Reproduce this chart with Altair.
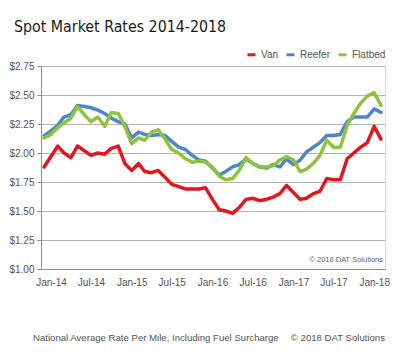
import altair as alt
import pandas as pd

# Monthly data, Dec-2013 .. Feb-2018 (51 months)
months = pd.date_range("2013-12-01", periods=51, freq="MS").strftime("%Y-%m-%dT00:00:00").tolist()

van = [1.88, 1.97, 2.06, 2.00, 1.96, 2.06, 2.02, 1.98, 2.00, 1.99,
       2.04, 2.06, 1.91, 1.85, 1.91, 1.84, 1.83, 1.85, 1.79, 1.73,
       1.71, 1.69, 1.69, 1.69, 1.70, 1.60, 1.51, 1.50, 1.48, 1.53,
       1.60, 1.61, 1.59, 1.60, 1.62, 1.65, 1.72, 1.66, 1.60, 1.61,
       1.65, 1.67, 1.78, 1.77, 1.77, 1.95, 2.00, 2.05, 2.09, 2.23, 2.12]

reefer = [2.15, 2.19, 2.24, 2.31, 2.33, 2.41, 2.40, 2.39, 2.37, 2.34,
          2.30, 2.27, 2.25, 2.13, 2.18, 2.16, 2.15, 2.16, 2.15, 2.10,
          2.05, 2.03, 1.98, 1.94, 1.93, 1.87, 1.81, 1.84, 1.88, 1.90,
          1.95, 1.91, 1.88, 1.87, 1.90, 1.88, 1.95, 1.90, 1.94, 2.01,
          2.05, 2.09, 2.15, 2.15, 2.16, 2.27, 2.31, 2.31, 2.31, 2.38, 2.35]

flatbed = [2.13, 2.16, 2.22, 2.26, 2.30, 2.40, 2.33, 2.27, 2.31, 2.23,
           2.35, 2.34, 2.23, 2.08, 2.13, 2.11, 2.18, 2.20, 2.12, 2.03,
           2.00, 1.95, 1.92, 1.93, 1.92, 1.88, 1.80, 1.77, 1.78, 1.85,
           1.96, 1.91, 1.88, 1.88, 1.89, 1.94, 1.97, 1.94, 1.84, 1.86,
           1.91, 1.98, 2.11, 2.05, 2.05, 2.24, 2.34, 2.43, 2.49, 2.52, 2.41]

series_names = ["Van", "Reefer", "Flatbed"]
series_colors = ["#e2161c", "#4f86c6", "#8cc43f"]

y_ticks = [1.00, 1.25, 1.50, 1.75, 2.00, 2.25, 2.50, 2.75]
x_tick_years_months = [(2014, 1), (2014, 7), (2015, 1), (2015, 7), (2016, 1),
                       (2016, 7), (2017, 1), (2017, 7), (2018, 1)]

title_text = "Spot Market Rates 2014-2018"
footer_left = "National Average Rate Per Mile, Including Fuel Surcharge"
footer_right = "© 2018 DAT Solutions"
inner_note = "© 2018 DAT Solutions"

rows = []
for name, vals in zip(series_names, [van, reefer, flatbed]):
    for m, v in zip(months, vals):
        rows.append({"month": m, "series": name, "rate": v})
df = pd.DataFrame(rows)

FONT = "Liberation Sans, Arial, sans-serif"
TITLE_FONT = "DejaVu Sans Condensed, Liberation Sans Narrow, sans-serif"
x_values = [alt.DateTime(year=y, month=m, date=1) for y, m in x_tick_years_months]

lines = alt.Chart(df).mark_line(strokeWidth=3.5, strokeJoin="round", strokeCap="round").encode(
    x=alt.X("month:T",
            scale=alt.Scale(domain=[alt.DateTime(year=2013, month=11, date=17),
                                    alt.DateTime(year=2018, month=2, date=19)]),
            axis=alt.Axis(values=x_values, format="%b-%y", title=None, grid=False,
                          ticks=False, labelPadding=8, domainColor="#8c8c8c",
                          labelFontSize=10, labelColor="#555555", labelFont=FONT)),
    y=alt.Y("rate:Q",
            scale=alt.Scale(domain=[1.0, 2.75], nice=False, zero=False),
            axis=alt.Axis(values=y_ticks, format="$.2f", title=None, grid=True,
                          gridColor="#b4b4b4", gridWidth=1, domainColor="#8c8c8c",
                          tickColor="#8c8c8c", tickSize=4, labelPadding=3,
                          labelFontSize=10, labelColor="#555555", labelFont=FONT)),
    color=alt.Color("series:N",
                    scale=alt.Scale(domain=series_names, range=series_colors),
                    legend=alt.Legend(orient="none", legendX=205, legendY=-17,
                                      direction="horizontal", title=None,
                                      symbolType="stroke", symbolStrokeWidth=3,
                                      symbolSize=64, labelFontSize=10,
                                      labelColor="#555555", labelFont=FONT,
                                      columnPadding=1, labelOffset=4,
                                      gridAlign="each")),
    detail="series:N",
)

title = alt.Chart(pd.DataFrame({"t": [title_text]})).mark_text(
    align="left", baseline="alphabetic", fontSize=15.8, color="#1a1a1a", font=TITLE_FONT
).encode(text="t:N", x=alt.value(-27), y=alt.value(-34))

note = alt.Chart(pd.DataFrame({"t": [inner_note]})).mark_text(
    align="right", baseline="middle", fontSize=7.5, color="#666666", font=FONT
).encode(text="t:N", x=alt.value(342), y=alt.value(194))

foot_l = alt.Chart(pd.DataFrame({"t": [footer_left]})).mark_text(
    align="left", baseline="middle", fontSize=9.6, color="#555555", font=FONT
).encode(text="t:N", x=alt.value(-8), y=alt.value(272))

foot_r = alt.Chart(pd.DataFrame({"t": [footer_right]})).mark_text(
    align="right", baseline="middle", fontSize=9.6, color="#555555", font=FONT
).encode(text="t:N", x=alt.value(344), y=alt.value(272))

chart = alt.layer(lines, title, note, foot_l, foot_r).properties(
    width=344, height=203,
    autosize=alt.AutoSizeParams(type="none"),
    padding={"left": 33, "top": 58, "right": 7, "bottom": 80},
).configure_view(stroke=None).configure(background="white")

chart.save("out.html", embed_options={"renderer": "svg", "actions": False})
